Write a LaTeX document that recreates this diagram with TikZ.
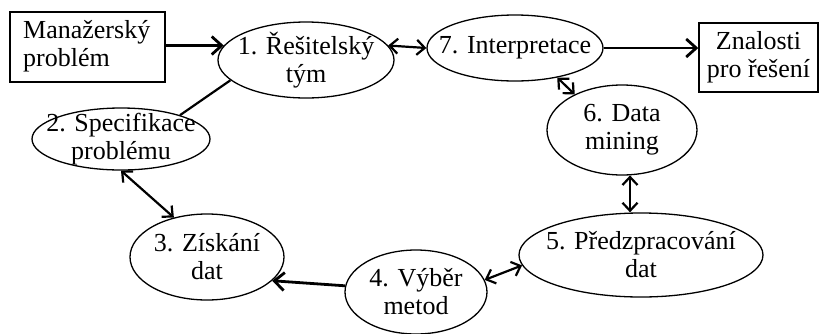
\documentclass[tikz,border=0pt]{standalone}
\usepackage{fontspec}
\setmainfont{Liberation Serif}
\usetikzlibrary{shapes.geometric,arrows.meta}
\tikzset{
  stage/.style={ellipse, draw, line width=1.3pt, inner xsep=-90pt, inner ysep=-40pt, align=center},
  box/.style={rectangle, draw, line width=1.4pt, inner sep=0pt},
  conn/.style={line width=2.8pt, -{Straight Barb[length=10pt,width=18pt]}},
  twoway/.style={line width=2.2pt, {Straight Barb[length=8pt,width=15pt]}-{Straight Barb[length=8pt,width=15pt]}}
}
\begin{document}
\begin{tikzpicture}[x=1pt,y=-1pt,font=\fontsize{26}{28}\selectfont]
            \useasboundingbox (0,0) rectangle (820,333);
            \node[box, minimum width=155pt, minimum height=70pt] (mgr) at (87.5,47) {};
            \node[anchor=west, align=left, inner sep=0pt] (mgrtext) at (23,46) {Manažerský\\problém};
            \node[box, minimum width=119pt, minimum height=69pt, align=center] (zn) at (758.5,57.5) {Znalosti\\pro řešení};
            \node[stage, minimum width=176pt, minimum height=76pt] (e1) at (306,60) {1. Řešitelský\\tým};
            \node[stage, minimum width=178pt, minimum height=62pt] (e2) at (121,139) {2. Specifikace\\problému};
            \node[stage, minimum width=154pt, minimum height=86pt] (e3) at (207,257) {3. Získání\\dat};
            \node[stage, minimum width=142pt, minimum height=84pt] (e4) at (416,292) {4. Výběr\\metod};
            \node[stage, minimum width=244pt, minimum height=84pt] (e5) at (641,255) {5. Předzpracování\\dat};
            \node[stage, minimum width=150pt, minimum height=90pt] (e6) at (622,130) {6. Data\\mining};
            \node[stage, minimum width=176pt, minimum height=66pt] (e7) at (515,48) {7. Interpretace};
            \draw[conn] (e1.170 -| mgr.east) -- (e1.170);
            \draw[twoway] (e1.10) -- (e7.west);
            \draw[conn] (e7.east) -- (zn.west |- e7.east);
            \draw[line width=2.2pt] (e1.195) -- (e2.22);
            \draw[twoway] (e2.south) -- (e3.130);
            \draw[conn] (e4.175) -- (e3.-20);
            \draw[twoway] (e4.10) -- (e5.185);
            \draw[twoway] (e6.-80) -- (e6.-80 |- e5.north);
            \draw[twoway] (e7.-35) -- (e6.143);
\end{tikzpicture}
\end{document}
